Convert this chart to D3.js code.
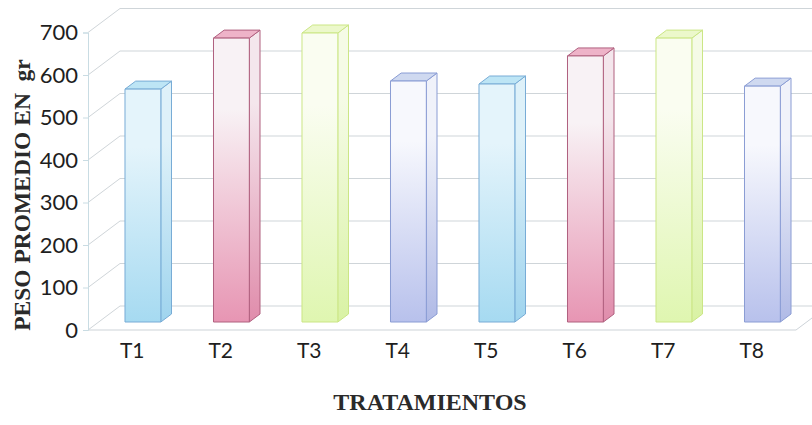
<!DOCTYPE html>
<html>
<head>
<meta charset="utf-8">
<script src="https://cdn.jsdelivr.net/npm/d3@7"></script>
<style>
  html, body { margin: 0; padding: 0; background: #ffffff; }
  svg { display: block; }
</style>
</head>
<body>
<svg id="chart" width="812" height="425"></svg>
<script>
// ---- data ----
const categories = ["T1", "T2", "T3", "T4", "T5", "T6", "T7", "T8"];
const values = [548, 668, 680, 567, 560, 626, 668, 555];
const yTicks = [0, 100, 200, 300, 400, 500, 600, 700];
const colorKeys = ["cyan", "pink", "lime", "lav", "cyan", "pink", "lime", "lav"];
const yTitle = "PESO PROMEDIO EN  gr";
const xTitle = "TRATAMIENTOS";

// ---- styling / layout ----
const palette = {
  cyan: { top: "#e4f4fb", bottom: "#a6daf1", side0: "#def1f9", side1: "#9fd4ee", cap: "#bde5f5", edge: "#78acd6" },
  pink: { top: "#f8f2f5", bottom: "#e795b3", side0: "#f4e6ec", side1: "#e08cab", cap: "#eeb3c8", edge: "#b0607f" },
  lime: { top: "#fafdf1", bottom: "#dff6b0", side0: "#f5fbe6", side1: "#d9f2a4", cap: "#ecf8cb", edge: "#cbe685" },
  lav:  { top: "#f7f8fd", bottom: "#b8c1ec", side0: "#f0f2fa", side1: "#b0bae6", cap: "#cfd9f0", edge: "#8a9cd4" }
};

const svg = d3.select("#chart");
const left = 88, right = 796, floorY = 330, topY = 32.5;
const depth = { dx: 32, dy: -24 };

const x = d3.scaleBand().domain(categories).range([left, right]).paddingInner(0).paddingOuter(0);
const y = d3.scaleLinear().domain([0, 700]).range([floorY, topY]);
const barW = x.bandwidth() * 0.405;

// gradients
const defs = svg.append("defs");
Object.entries(palette).forEach(([k, c]) => {
  const g = defs.append("linearGradient").attr("id", "g-" + k).attr("x1", 0).attr("y1", 0).attr("x2", 0).attr("y2", 1);
  g.append("stop").attr("offset", "0%").attr("stop-color", c.top);
  g.append("stop").attr("offset", "25%").attr("stop-color", c.top);
  g.append("stop").attr("offset", "100%").attr("stop-color", c.bottom);
  const s = defs.append("linearGradient").attr("id", "s-" + k).attr("x1", 0).attr("y1", 0).attr("x2", 0).attr("y2", 1);
  s.append("stop").attr("offset", "0%").attr("stop-color", c.side0);
  s.append("stop").attr("offset", "25%").attr("stop-color", c.side0);
  s.append("stop").attr("offset", "100%").attr("stop-color", c.side1);
});

// gridlines (left wall + back wall)
const grid = svg.append("g").attr("fill", "none").attr("stroke", "#cfd5d9").attr("stroke-width", 1);
yTicks.forEach(v => {
  const yy = y(v);
  grid.append("path").attr("d",
    `M${left},${yy}L${left + depth.dx},${yy + depth.dy}L${right + depth.dx},${yy + depth.dy}`);
});
// floor front edge + right edge
grid.append("path").attr("d",
  `M${left},${floorY}L${right},${floorY}L${right + depth.dx},${floorY + depth.dy}`)
  .attr("stroke", "#cdd3d8");

// y axis
const yAxis = svg.append("g").attr("transform", `translate(${left},0)`)
  .call(d3.axisLeft(y).tickValues(yTicks).tickSize(5).tickPadding(5).tickFormat(d3.format("d")));
yAxis.select(".domain").attr("stroke", "#c9dce3");
yAxis.selectAll(".tick line").attr("stroke", "#c9dce3");
yAxis.selectAll(".tick text")
  .attr("font-family", "Lato, 'Open Sans', sans-serif")
  .attr("font-size", 22)
  .attr("fill", "#1e1e1e");

// bars
const f1 = 1 / 3, f2 = 2 / 3;
const bars = svg.append("g");
categories.forEach((cat, i) => {
  const v = values[i];
  const c = palette[colorKeys[i]];
  const cx = x(cat) + x.bandwidth() / 2 + depth.dx * f1;
  const x0 = cx - barW / 2, x1 = cx + barW / 2;
  const yb = y(0) + depth.dy * f1;
  const yt = y(v) + depth.dy * f1;
  const ddx = depth.dx * (f2 - f1), ddy = depth.dy * (f2 - f1);
  const g = bars.append("g").attr("stroke", c.edge).attr("stroke-width", 1).attr("stroke-linejoin", "round");
  // side face
  g.append("path").attr("fill", `url(#s-${colorKeys[i]})`)
    .attr("d", `M${x1},${yb}L${x1 + ddx},${yb + ddy}L${x1 + ddx},${yt + ddy}L${x1},${yt}Z`);
  // top face
  g.append("path").attr("fill", c.cap)
    .attr("d", `M${x0},${yt}L${x1},${yt}L${x1 + ddx},${yt + ddy}L${x0 + ddx},${yt + ddy}Z`);
  // front face
  g.append("rect").attr("fill", `url(#g-${colorKeys[i]})`)
    .attr("x", x0).attr("y", yt).attr("width", barW).attr("height", yb - yt);
});

// x labels
svg.append("g").selectAll("text").data(categories).join("text")
  .attr("x", d => x(d) + x.bandwidth() / 2)
  .attr("y", 358)
  .attr("text-anchor", "middle")
  .attr("font-family", "Lato, 'Open Sans', sans-serif")
  .attr("font-size", 21)
  .attr("fill", "#1e1e1e")
  .text(d => d);

// titles
svg.append("text")
  .attr("x", 430).attr("y", 410)
  .attr("text-anchor", "middle")
  .attr("font-family", "'Liberation Serif', 'Times New Roman', serif")
  .attr("font-weight", "bold")
  .attr("font-size", 24)
  .attr("fill", "#2a2a2a")
  .text(xTitle);

svg.append("text")
  .attr("transform", "translate(30,195) rotate(-90)")
  .attr("text-anchor", "middle")
  .attr("font-family", "'Liberation Serif', 'Times New Roman', serif")
  .attr("font-weight", "bold")
  .attr("font-size", 23.5)
  .attr("fill", "#2a2a2a")
  .attr("xml:space", "preserve")
  .style("white-space", "pre")
  .text(yTitle);
</script>
</body>
</html>
